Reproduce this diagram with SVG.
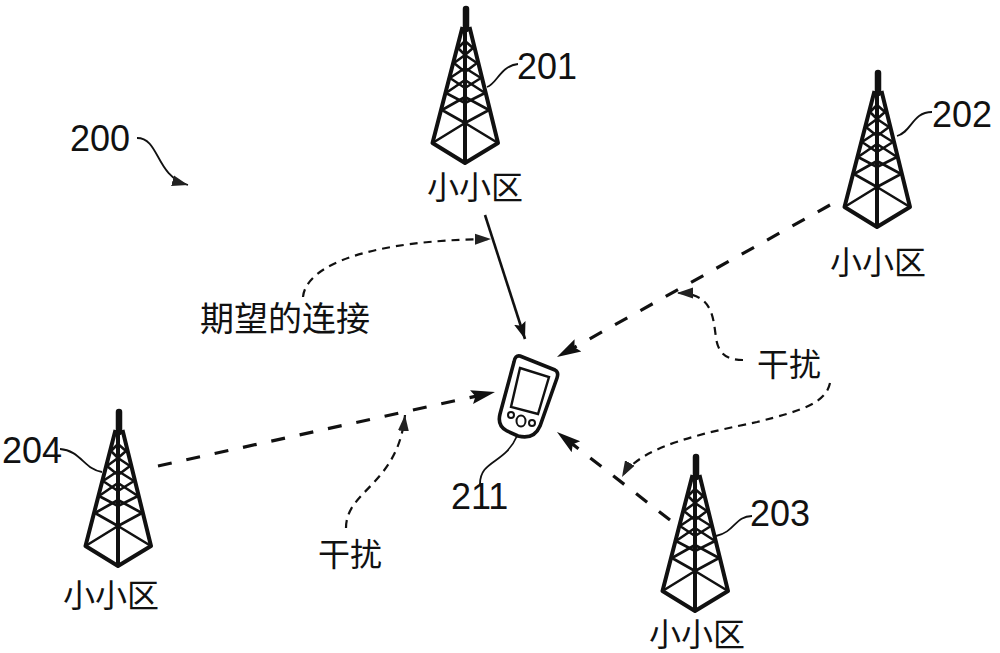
<svg xmlns="http://www.w3.org/2000/svg" width="1000" height="653" viewBox="0 0 1000 653">
<style>
.t{font-family:"Liberation Sans",Arial,sans-serif;font-size:36px;fill:#111}
.c{font-family:"Noto Sans CJK SC","Liberation Serif",serif;font-size:32px;fill:#111}
.tw{fill:none;stroke:#111;stroke-width:2.6;stroke-linejoin:round}
.leg{fill:none;stroke:#111;stroke-width:4;stroke-linejoin:round}
.lead{fill:none;stroke:#111;stroke-width:1.8}
.sol{fill:none;stroke:#111;stroke-width:2.6}
.dash{fill:none;stroke:#111;stroke-width:3.2;stroke-dasharray:14 15}
.dot{fill:none;stroke:#111;stroke-width:2.2;stroke-dasharray:8 6}
</style>
<defs>
<marker id="big" markerWidth="26" markerHeight="16" refX="24" refY="8" orient="auto" markerUnits="userSpaceOnUse"><path d="M0 1 L24 8 L0 15 L4 8Z" fill="#111"/></marker>
<marker id="mid" markerWidth="18" markerHeight="14" refX="17" refY="7" orient="auto" markerUnits="userSpaceOnUse"><path d="M0 1 L17 7 L0 13 L3 7Z" fill="#111"/></marker>
<marker id="small" markerWidth="17" markerHeight="12" refX="16" refY="6" orient="auto" markerUnits="userSpaceOnUse"><path d="M0 0.5 L16 6 L0 11.5 Z" fill="#222"/></marker>
<g id="tower">
<path d="M0 2 V22" stroke="#111" stroke-width="6.5" stroke-linecap="round" fill="none"/>
<path class="leg" d="M-3.5 20 L-33.5 136 L-1 156 L32 136 L3.5 20"/>
<path class="leg" d="M-1 22 V156"/>
<path class="tw" d="M-33.500 136 L-1 116 L32 136"/>
<path class="tw" d="M-24 103 L-1 116 L23 103 L-1 90 Z"/>
<path class="tw" d="M-20 86 L-1 96 L19 86 L-1 73 Z"/>
<path class="tw" d="M-16 71 L-1 81 L15 71 L-1 61 Z"/>
<path class="tw" d="M-12 56 L-1 65 L11 56 L-1 48 Z"/>
<path class="tw" d="M-8 41 L-1 48 L7 41 L-1 34 Z"/>
</g>
</defs>
<g id="connectors">
<path class="sol" marker-end="url(#mid)" d="M485 215 L525 339"/>
<path class="dash" marker-end="url(#big)" d="M830 205 L557 357"/>
<path class="dash" marker-end="url(#big)" d="M670 520 L557 432"/>
<path class="dash" marker-end="url(#big)" d="M158 466 L495 392"/>
<path class="dot" marker-end="url(#small)" d="M303 297 C306 265 370 240 491 239"/>
<path class="dot" marker-end="url(#small)" d="M743 360 C725 360 718 352 716 338 C713 315 712 293 677 293"/>
<path class="dot" marker-end="url(#small)" d="M830 383 C826 402 805 410 757 422 C710 432 640 445 622 477"/>
<path class="dot" marker-end="url(#small)" d="M346 528 C346 490 398 485 405 415"/>
<path class="lead" marker-end="url(#small)" d="M137 138 C160 138 155 176 188 185"/>
<path class="lead" d="M518 64 C500 66 497 84 487 87"/>
<path class="lead" d="M932 112 C912 112 912 132 897 136"/>
<path class="lead" d="M752 516 C735 516 735 532 716 536"/>
<path class="lead" d="M60 449 C80 450 85 470 102 472"/>
<path class="lead" d="M480 484 C480 460 505 464 517 436"/>
</g>
<g id="n200"><text class="t" x="70" y="151">200</text></g>
<g id="n201"><use href="#tower" x="466" y="7"/><text class="t" x="517" y="79">201</text><text class="c" x="427" y="199">小小区</text></g>
<g id="n202"><use href="#tower" x="878" y="71"/><text class="t" x="932" y="127">202</text><text class="c" x="830" y="274">小小区</text></g>
<g id="n203"><use href="#tower" x="696" y="455"/><text class="t" x="750" y="526">203</text><text class="c" x="649" y="646">小小区</text></g>
<g id="n204"><use href="#tower" x="119" y="410"/><text class="t" x="2" y="463">204</text><text class="c" x="63" y="607">小小区</text></g>
<g id="n211">
<path d="M520 356 L555 370 Q559 372 557 378 L540 426 Q534 440 518 436 L507 431 Q497 426 500 414 L514 362 Q515 355 520 356Z" fill="#fff" stroke="#111" stroke-width="3.6"/>
<path d="M520 368 L549 377 L538 414 L511 407Z" fill="#fff" stroke="#111" stroke-width="2.4"/>
<circle cx="511" cy="415" r="3" fill="none" stroke="#111" stroke-width="2"/><ellipse cx="521" cy="421" rx="4.5" ry="5.5" fill="none" stroke="#111" stroke-width="2"/><circle cx="532" cy="423" r="3" fill="none" stroke="#111" stroke-width="2"/>
<text class="t" x="451" y="509">211</text>
</g>
<g id="l1"><text class="c" x="200" y="331" style="font-size:34px">期望的连接</text></g>
<g id="l2"><text class="c" x="757" y="376">干扰</text></g>
<g id="l3"><text class="c" x="318" y="566">干扰</text></g>
</svg>
